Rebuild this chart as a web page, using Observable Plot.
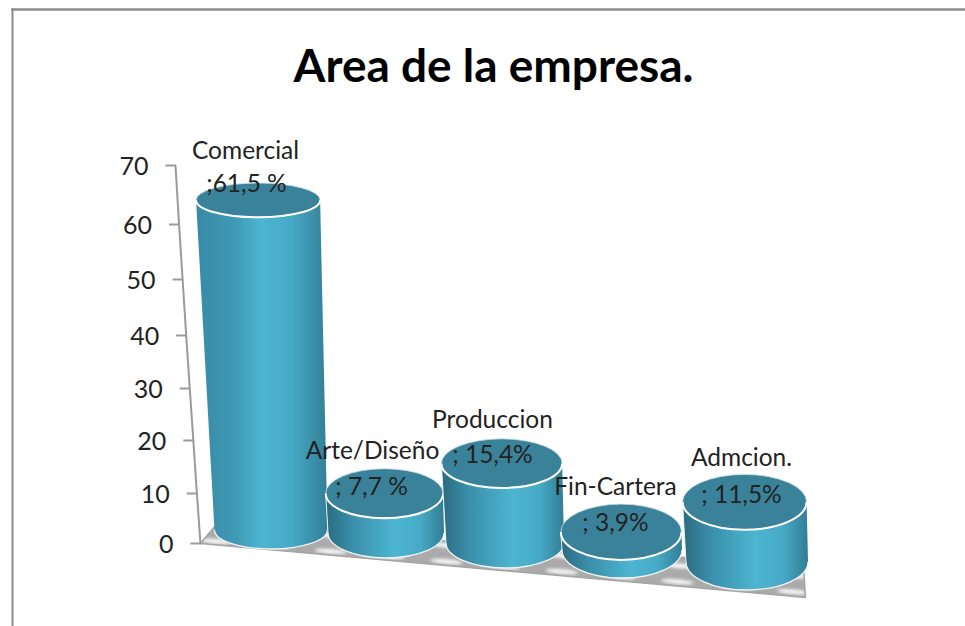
<!DOCTYPE html>
<html lang="es">
<head>
<meta charset="utf-8">
<title>Area de la empresa.</title>
<script src="https://cdn.jsdelivr.net/npm/d3@7"></script>
<script src="https://cdn.jsdelivr.net/npm/@observablehq/plot@0.6"></script>
<style>
  html, body { margin: 0; padding: 0; background: #fff; overflow: hidden; }
  svg { display: block; }
</style>
</head>
<body>
<div id="chart"></div>
<script>
// Values
const categories = ["Comercial", "Arte/Diseño", "Produccion", "Fin-Cartera", "Admcion."];
const shares = [61.5, 7.7, 15.4, 3.9, 11.5];
const shareLabels = [";61,5 %", "; 7,7 %", "; 15,4%", "; 3,9%", "; 11,5%"];
const yTicks = [0, 10, 20, 30, 40, 50, 60, 70];

// Perspective layout of the columns (pixels)
const baseOffset = [-13, -10, 0, 7, 19];    // depth of each column's foot on the sloping floor
const lidNudge = [-2, -1, -1, 1.5, -2];     // lid correction for the receding view
const baseRx = [56.5, 58, 59, 60, 61];
const baseRy = [19, 25, 25, 28, 28];
const shareDy = [-18, -8, -10, -8, -9];     // share label, relative to the column top
const nameDy = [-51, -44, -45, -44, -46];   // category label, relative to the column top
const nameDx = [-26, -14, -13, -7, -6];
const shareDx = [-25, -15, -13, -7, -6];

const rows = categories.map((name, i) => ({
  i, name, value: shares[i], label: shareLabels[i],
  offset: baseOffset[i], rx: baseRx[i], ry: baseRy[i], nudge: lidNudge[i]
}));

// The value axis leans back as it rises
const wallFoot = -0.587, wallLean = 0.00295, tickLength = 0.083;
const wallX = v => wallFoot - v * wallLean;

// Floor corners in scale units
const floorX = [-0.587, -0.463, 4.459, 4.475];
const floorY = [0, 3.6, -4.4, -10.8];
const floorIdx = d3.range(floorX.length);

const font = "Lato, 'Noto Sans', sans-serif";
const ink = "#222";

const defs = () => {
  const d = d3.create("svg:defs");
  const gradient = (id, stops) => {
    const g = d.append("linearGradient").attr("id", id);
    stops.forEach(([o, c]) => g.append("stop").attr("offset", o).attr("stop-color", c));
  };
  gradient("cylSide", [[0, "#2b6a7f"], [0.22, "#3a8ea9"], [0.58, "#4db5d1"], [0.8, "#47aac6"], [1, "#317d94"]]);
  gradient("cylSideTall", [[0, "#378aa5"], [0.3, "#3f9ab5"], [0.5, "#4db5d1"], [0.72, "#46aac7"], [1, "#347e96"]]);
  d.append("filter").attr("id", "soft")
    .attr("x", "-30%").attr("y", "-100%").attr("width", "160%").attr("height", "300%")
    .append("feGaussianBlur").attr("stdDeviation", 1.6);
  const pat = d.append("pattern").attr("id", "floorFill")
    .attr("patternUnits", "userSpaceOnUse").attr("width", 58).attr("height", 16)
    .attr("patternTransform", "rotate(5)");
  pat.append("rect").attr("width", 58).attr("height", 16).attr("fill", "#aaaaaa");
  pat.append("ellipse").attr("cx", 29).attr("cy", 8).attr("rx", 16).attr("ry", 2.6)
    .attr("fill", "#f6f6f6").attr("filter", "url(#soft)");
  return d.node();
};

// Cylinders: body, foot rim and lid, each placed with the x and y scales
const cylinders = (index, { x, y }) => {
  const g = d3.create("svg:g");
  for (const k of index) {
    const { i, value, offset, rx, ry, nudge } = rows[k];
    const bx = x(i), by = y(0) + offset;
    const tx = bx - value * 0.21, ty = y(value) + offset + nudge;
    const trx = rx + value * 0.09, tryy = Math.max(17, ry - value * 0.03);
    const front = (r, s, px, py) => `A${r},${s} 0 0 0 ${px},${py}`;
    const c = g.append("g");
    c.append("path")
      .attr("d", `M${tx - trx},${ty} L${bx - rx},${by} ${front(rx, ry, bx + rx, by)} L${tx + trx},${ty} Z`)
      .attr("fill", value > 50 ? "url(#cylSideTall)" : "url(#cylSide)");
    c.append("path")
      .attr("d", `M${bx - rx},${by} ${front(rx, ry, bx + rx, by)}`)
      .attr("fill", "none").attr("stroke", "#f2f2f2").attr("stroke-width", 1.3);
    c.append("line")
      .attr("x1", tx - trx).attr("y1", ty).attr("x2", bx - rx).attr("y2", by)
      .attr("stroke", "#e8f2f5").attr("stroke-width", i ? 1 : 0);
    c.append("ellipse")
      .attr("cx", tx).attr("cy", ty).attr("rx", trx).attr("ry", tryy)
      .attr("fill", "#3a8299").attr("stroke", "#cfe2e8").attr("stroke-width", 0.8);
    c.append("path")
      .attr("d", `M${tx - trx},${ty} ${front(trx, tryy, tx + trx, ty)}`)
      .attr("fill", "none").attr("stroke", "#fff").attr("stroke-width", 2);
  }
  return g.node();
};

const chart = Plot.plot({
  width: 965,
  height: 626,
  marginTop: 9,
  marginLeft: 12,
  marginRight: 0,
  marginBottom: 0,
  style: { background: "#fff", fontFamily: font },
  x: { type: "linear", axis: null, domain: [-1, 0, 1, 2, 3, 4, 5], range: [150, 271, 386, 505, 622, 747, 869] },
  y: {
    type: "linear",
    axis: null,
    domain: [-12, 0, 10, 20, 30, 40, 50, 60, 70],
    range: [603, 543, 493, 440, 388, 335, 279, 224, 165]
  },
  marks: [
    defs,
    Plot.frame({ anchor: "top", stroke: "#8c8c8c", strokeWidth: 2.5 }),
    Plot.frame({ anchor: "left", stroke: "#8c8c8c", strokeWidth: 2 }),

    // Title
    Plot.text(["Area de la empresa."], {
      frameAnchor: "top-left", dx: 481, dy: 40, textAnchor: "middle", lineAnchor: "top",
      fontSize: 46, fontWeight: 700, fill: "#000", fontFamily: font
    }),

    // Floor
    Plot.line(floorIdx, {
      x: j => floorX[j], y: j => floorY[j], curve: "linear-closed",
      fill: "url(#floorFill)", stroke: "#a4a4a4", strokeWidth: 1.5
    }),

    // Value axis
    Plot.line(yTicks, { x: wallX, y: v => v, stroke: "#9a9a9a", strokeWidth: 2, curve: "linear" }),
    Plot.link(yTicks, {
      x1: v => wallX(v) - tickLength, x2: wallX, y1: v => v, y2: v => v,
      stroke: "#9a9a9a", strokeWidth: 2
    }),
    Plot.text(yTicks, {
      x: v => wallX(v) - tickLength, y: v => v, text: v => String(v), dx: -17, dy: 1,
      textAnchor: "end", fontSize: 25, fill: ink, fontFamily: font
    }),

    // Columns, left to right so each overlaps the previous one
    Plot.dot(rows, { x: "i", y: "value", render: cylinders }),

    // Labels
    ...rows.flatMap((r, k) => [
      Plot.text([r], {
        x: "i", y: "value", text: "name", dx: nameDx[k], dy: r.offset + nameDy[k],
        fontSize: 24.5, fill: ink, fontFamily: font
      }),
      Plot.text([r], {
        x: "i", y: "value", text: "label", dx: shareDx[k], dy: r.offset + shareDy[k],
        fontSize: 24.5, fill: ink, fontFamily: font
      })
    ])
  ]
});
document.getElementById("chart").append(chart);
</script>
</body>
</html>
